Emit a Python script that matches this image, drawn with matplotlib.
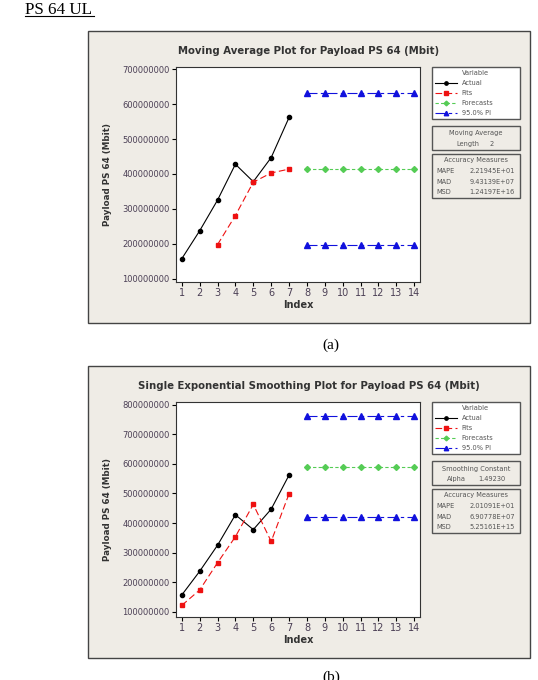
import matplotlib
matplotlib.use('Agg')
import matplotlib.pyplot as plt
from matplotlib.patches import Rectangle
from matplotlib.lines import Line2D
from matplotlib.ticker import FuncFormatter


index = [1, 2, 3, 4, 5, 6, 7]
future = [8, 9, 10, 11, 12, 13, 14]
actual = [157e6, 237e6, 325e6, 428e6, 378e6, 447e6, 562e6]

# moving average (length 2)
ma_fit_index = [3, 4, 5, 6, 7]
ma_fits = [197.5e6, 281e6, 376.5e6, 403e6, 414e6]
ma_forecast = [415e6, 415e6, 415e6, 415e6, 415e6, 415e6, 415e6]
ma_upper = [631e6, 631e6, 631e6, 631e6, 631e6, 631e6, 631e6]
ma_lower = [197e6, 197e6, 197e6, 197e6, 197e6, 197e6, 197e6]
ma_yticks = [100e6, 200e6, 300e6, 400e6, 500e6, 600e6, 700e6]
ma_stats = [('MAPE', '2.21945E+01'), ('MAD', '9.43139E+07'), ('MSD', '1.24197E+16')]

# single exponential smoothing
ses_fits = [122e6, 174e6, 266e6, 354e6, 463e6, 338e6, 499e6]
ses_forecast = [589e6, 589e6, 589e6, 589e6, 589e6, 589e6, 589e6]
ses_upper = [760e6, 760e6, 760e6, 760e6, 760e6, 760e6, 760e6]
ses_lower = [421e6, 421e6, 421e6, 421e6, 421e6, 421e6, 421e6]
ses_yticks = [100e6, 200e6, 300e6, 400e6, 500e6, 600e6, 700e6, 800e6]
ses_stats = [('MAPE', '2.01091E+01'), ('MAD', '6.90778E+07'), ('MSD', '5.25161E+15')]

W, H = 538, 680
fig = plt.figure(figsize=(W / 100, H / 100), dpi=100)
fig.patch.set_facecolor('white')


def fx(px):
    return px / W


def fy(py):
    return 1 - py / H


def box(x0, y0, x1, y1, face='none', ec='#555555', lw=1.0, z=1):
    fig.add_artist(Rectangle((fx(x0), fy(y1)), fx(x1) - fx(x0), fy(y0) - fy(y1),
                             transform=fig.transFigure, facecolor=face,
                             edgecolor=ec, linewidth=lw, zorder=z))


tick_col = '#4b3f55'
txt_col = '#555555'


def panel(top, title, fits_idx, fits, fc, up, lo, yticks, ylim,
          param_title, param_name, param_val, stats):
    # panel background (behind the axes)
    box(88, top, 530, top + 292, face='#efece6', ec='#444444', lw=1.0, z=-5)
    fig.text(fx(309), fy(top + 20), title, ha='center', va='center',
             fontsize=7.3, fontweight='bold', color='#333333')

    ax = fig.add_axes([fx(176), fy(top + 251), fx(420) - fx(176), 215 / H])
    ax.set_facecolor('white')
    ax.plot(index, actual, color='black', lw=0.8, marker='o', ms=3, label='Actual')
    ax.plot(fits_idx, fits, color='#ee1111', lw=0.8, ls=(0, (6, 3)),
            marker='s', ms=3, label='Fits')
    ax.plot(future, fc, color='#55cc55', lw=0.8, ls=(0, (3, 2)),
            marker='D', ms=3, label='Forecasts')
    ax.plot(future, up, color='#1111dd', lw=0.8, ls=(0, (9, 3, 3, 3)),
            marker='^', ms=4, label='95.0% PI')
    ax.plot(future, lo, color='#1111dd', lw=0.8, ls=(0, (9, 3, 3, 3)),
            marker='^', ms=4)

    ax.set_xlim(0.68, 14.32)
    ax.set_ylim(*ylim)
    ax.set_xticks(index + future)
    ax.set_yticks(yticks)
    ax.yaxis.set_major_formatter(FuncFormatter(lambda v, p: f'{v:.0f}'))
    ax.tick_params(axis='y', labelsize=6, labelcolor=tick_col, length=3,
                   width=0.8, pad=1.5)
    ax.tick_params(axis='x', labelsize=7, labelcolor=tick_col, length=3,
                   width=0.8, pad=1.5)
    for s in ax.spines.values():
        s.set_color('#333333')
        s.set_linewidth(0.8)

    ax.set_ylabel('Payload PS 64 (Mbit)', fontsize=6.3, fontweight='bold',
                  color='#333333')
    ax.yaxis.set_label_coords(-0.262, 0.5)
    ax.set_xlabel('Index', fontsize=7, fontweight='bold', color='#333333')
    ax.xaxis.set_label_coords(0.5, -0.085)

    leg = ax.legend(title='Variable', loc='upper left',
                    bbox_to_anchor=(fx(432), fy(top + 91), fx(520) - fx(432), 55 / H),
                    bbox_transform=fig.transFigure, mode='expand',
                    borderaxespad=0, fancybox=False, fontsize=4.8,
                    title_fontsize=4.8, handlelength=3.3, handletextpad=0.7,
                    labelspacing=0.6, borderpad=0.45, framealpha=1,
                    markerscale=0.8)
    leg.get_frame().set_edgecolor('#555555')
    leg.get_frame().set_linewidth(1.0)
    for t in leg.get_texts():
        t.set_color(txt_col)
    leg.get_title().set_color(txt_col)

    # parameter box
    box(432, top + 95, 520, top + 119)
    fig.text(fx(476), fy(top + 102.5), param_title, ha='center', va='center',
             fontsize=4.8, color=txt_col)
    fig.text(fx(param_name[1]), fy(top + 113), param_name[0], ha='center',
             va='center', fontsize=4.8, color=txt_col)
    fig.text(fx(param_val[1]), fy(top + 113), param_val[0], ha='center',
             va='center', fontsize=4.8, color=txt_col)

    # accuracy box
    box(432, top + 123, 520, top + 167)
    fig.text(fx(476), fy(top + 129), 'Accuracy Measures', ha='center',
             va='center', fontsize=4.8, color=txt_col)
    for i, (k, v) in enumerate(stats):
        yy = fy(top + 140 + i * 10.7)
        fig.text(fx(436), yy, k, ha='left', va='center', fontsize=4.8, color=txt_col)
        fig.text(fx(515), yy, v, ha='right', va='center', fontsize=4.8, color=txt_col)
    return ax


# page heading
fig.text(fx(25), fy(13.5), 'PS 64 UL', ha='left', va='baseline', fontsize=12.3,
         family='Liberation Serif', color='black')
fig.add_artist(Line2D([fx(25), fx(94)], [fy(16), fy(16)],
                      transform=fig.transFigure, color='black', lw=0.8))

panel(31, 'Moving Average Plot for Payload PS 64 (Mbit)', ma_fit_index, ma_fits,
      ma_forecast, ma_upper, ma_lower, ma_yticks, (90.5e6, 706.6e6),
      'Moving Average', ('Length', 468), ('2', 492), ma_stats)
fig.text(fx(331), fy(345), '(a)', ha='center', va='center', fontsize=11,
         family='Liberation Serif')

panel(366, 'Single Exponential Smoothing Plot for Payload PS 64 (Mbit)', index,
      ses_fits, ses_forecast, ses_upper, ses_lower, ses_yticks, (83e6, 808.7e6),
      'Smoothing Constant', ('Alpha', 456), ('1.49230', 492), ses_stats)
fig.text(fx(331), fy(677), '(b)', ha='center', va='center', fontsize=11,
         family='Liberation Serif')

fig.savefig('out.png', dpi=100)
